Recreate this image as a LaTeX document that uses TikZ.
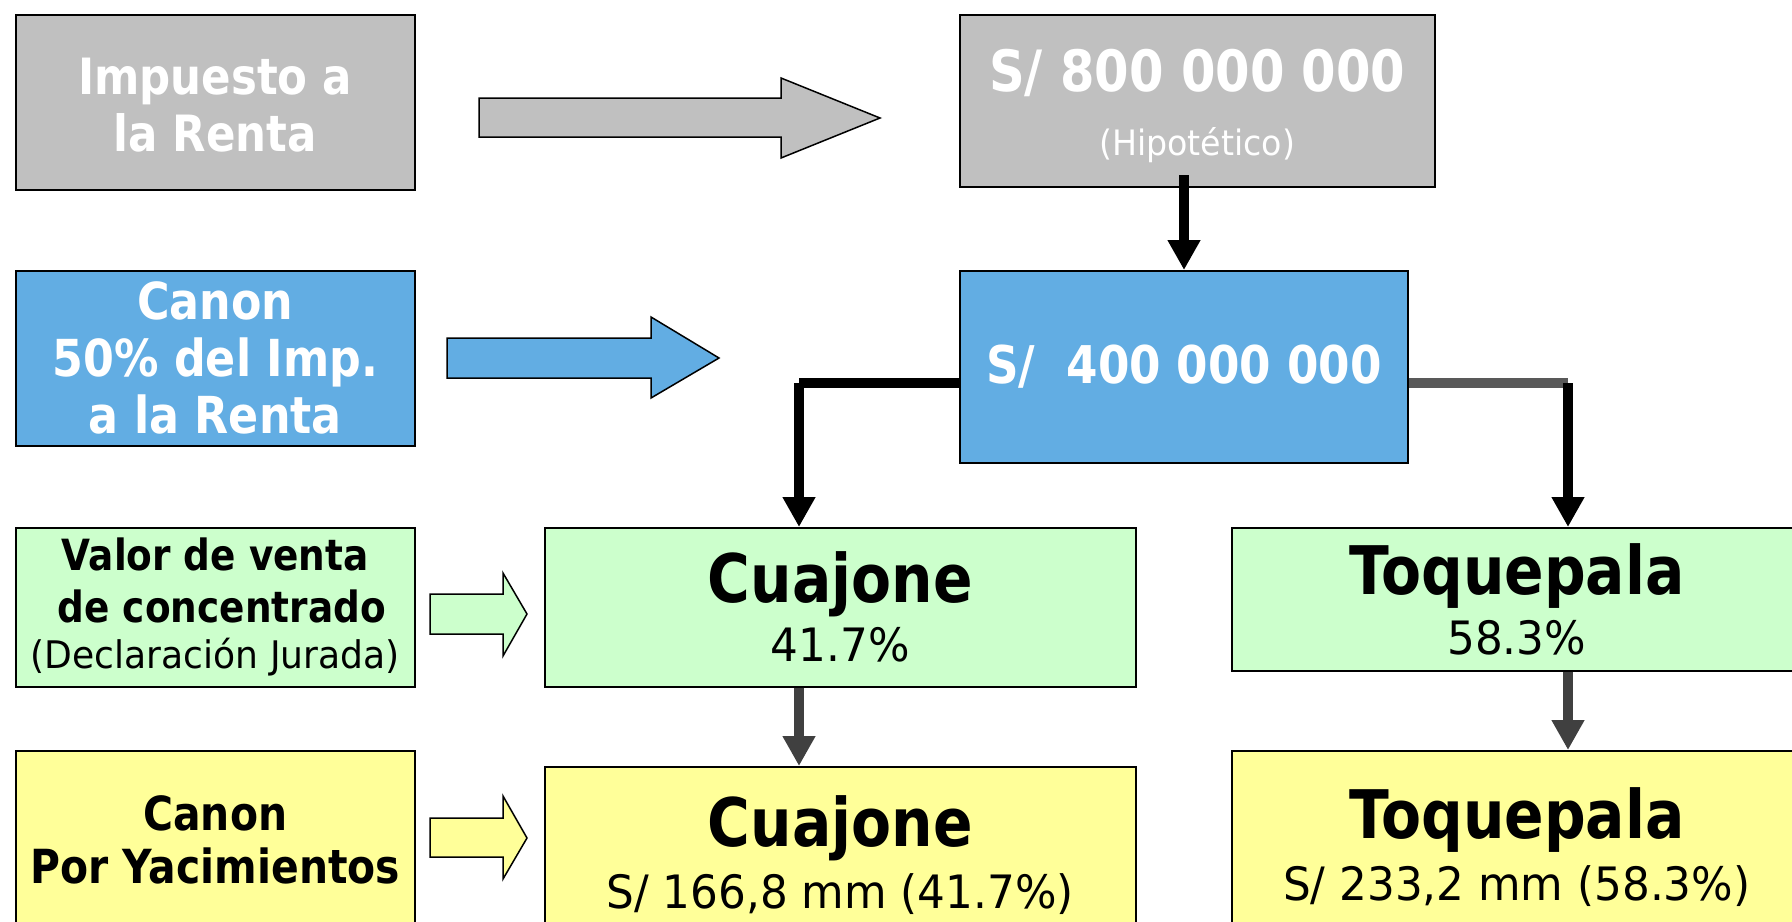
\documentclass[tikz,border=0pt]{standalone}
\usepackage{fontspec}
\setmainfont{DejaVu Sans}[UprightFeatures={FakeStretch=0.95}, BoldFeatures={FakeStretch=0.87}]
\usetikzlibrary{arrows.meta, positioning}

\definecolor{impgray}{HTML}{C0C0C0}
\definecolor{canonblue}{HTML}{62ADE3}
\definecolor{ventagreen}{HTML}{CCFFCC}
\definecolor{yacyellow}{HTML}{FFFF99}
\definecolor{linegray}{HTML}{595959}
\definecolor{arrowgray}{HTML}{404040}

\tikzset{
  box/.style={rectangle, draw=black, line width=0.75pt, inner sep=0pt, align=center, anchor=north west},
  graybox/.style={box, fill=impgray, text=white},
  bluebox/.style={box, fill=canonblue, text=white},
  greenbox/.style={box, fill=ventagreen},
  yellowbox/.style={box, fill=yacyellow},
  fatarrow/.style={draw=black, line width=0.75pt},
  blackline/.style={draw=black, line width=5pt},
  grayline/.style={draw=linegray, line width=5pt},
  darkline/.style={draw=arrowgray, line width=5pt}
}

\begin{document}
\begin{tikzpicture}[x=0.5pt, y=-0.5pt, >={Triangle[length=15pt,width=15.5pt]}]
    \useasboundingbox (0,0) rectangle (1792,921);
    \clip (0,0) rectangle (1792,921);

    % left column
    \node[graybox, minimum width=199.5pt, minimum height=87.5pt, font=\bfseries\fontsize{25}{28.5}\selectfont] (imp) at (15,14) {\rule{0pt}{21pt}Impuesto a\\la Renta};
    \node[bluebox, minimum width=199.5pt, minimum height=87.5pt, font=\bfseries\fontsize{25.5}{28.5}\selectfont] (canon) at (15,270) {Canon\\50\% del Imp.\\a la Renta};
    \node[greenbox, minimum width=199.5pt, minimum height=79.5pt, font=\bfseries\fontsize{21.5}{26}\selectfont] (valor) at (15,527) {Valor de venta\\\ de concentrado\\[-3pt]{\mdseries\fontsize{19}{26}\selectfont(Declaración Jurada)}};
    \node[yellowbox, minimum width=199.5pt, minimum height=89pt, font=\bfseries\fontsize{23.5}{26.5}\selectfont] (canyac) at (15,750) {Canon\\Por Yacimientos};

    % amounts
    \node[graybox, minimum width=237.5pt, minimum height=86pt, font=\fontsize{28.5}{32}\selectfont] (ochoc) at (959,14) {\rule{0pt}{26.5pt}{\bfseries S/ 800 000 000}\\{\fontsize{17.5}{32}\selectfont(Hipotético)}};
    \node[bluebox, minimum width=224pt, minimum height=96pt, font=\bfseries\fontsize{26}{30}\selectfont] (cuatroc) at (959,270) {S/~~400 000 000};

    % mines
    \node[greenbox, minimum width=295.5pt, minimum height=79.5pt, font=\fontsize{23}{29.5}\selectfont] (cuaj) at (544,527) {{\bfseries\fontsize{33.5}{29.5}\selectfont Cuajone}\\41.7\%};
    \node[greenbox, minimum width=285pt, minimum height=71.5pt, font=\fontsize{23}{30}\selectfont] (toq) at (1231,527) {{\bfseries\fontsize{33.5}{30}\selectfont Toquepala}\\58.3\%};
    \node[yellowbox, minimum width=295.5pt, minimum height=88pt, font=\fontsize{23}{31}\selectfont] (cuajy) at (544,766) {{\bfseries\fontsize{33.5}{31}\selectfont Cuajone}\\S/ 166,8 mm (41.7\%)};
    \node[yellowbox, minimum width=285pt, minimum height=96pt, font=\fontsize{23}{31}\selectfont] (toqy) at (1231,750) {{\bfseries\fontsize{33.5}{31}\selectfont Toquepala}\\S/ 233,2 mm (58.3\%)};

    % block arrows
    \path[fatarrow, fill=impgray] (479,98) -- (781,98) -- (781,78) -- (880,118) -- (781,158) -- (781,137) -- (479,137) -- cycle;
    \path[fatarrow, fill=canonblue] (447,338) -- (651,338) -- (651,317) -- (719,358) -- (651,398) -- (651,378) -- (447,378) -- cycle;
    \path[fatarrow, fill=ventagreen] (430,594) -- (503,594) -- (503,573) -- (527,614) -- (503,656) -- (503,634) -- (430,634) -- cycle;
    \path[fatarrow, fill=yacyellow] (430,818) -- (503,818) -- (503,796) -- (527,838) -- (503,879) -- (503,857) -- (430,857) -- cycle;

    % connectors
    \coordinate (dn) at (1184,175);
    \coordinate (lc) at (799,383);
    \coordinate (rc) at (1568,383);
    \draw[blackline, ->] (dn) -- (dn |- cuatroc.north);
    \draw[blackline] (cuatroc.west |- lc) -- (lc);
    \draw[blackline, ->] (lc) -- (lc |- cuaj.north);
    \draw[grayline] (cuatroc.east |- rc) -- (rc);
    \draw[blackline, ->] (rc) -- (rc |- toq.north);
    \draw[darkline, ->] (cuaj.south -| lc) -- (lc |- cuajy.north);
    \draw[darkline, ->] (toq.south -| rc) -- (rc |- toqy.north);
\end{tikzpicture}
\end{document}
